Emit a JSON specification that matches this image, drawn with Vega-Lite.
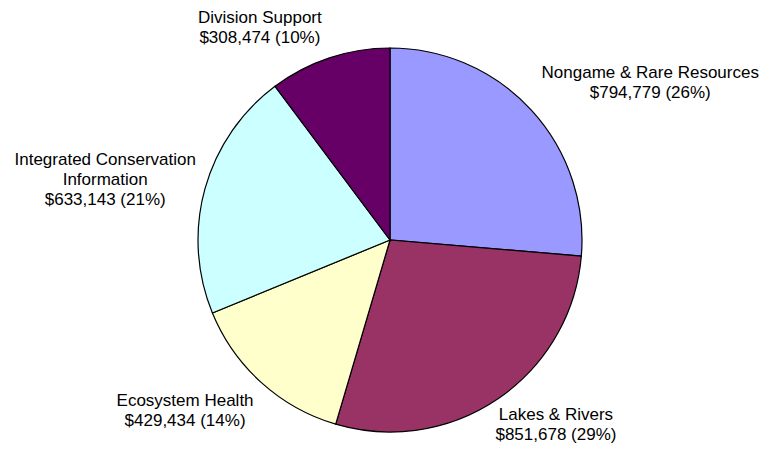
{
  "$schema": "https://vega.github.io/schema/vega-lite/v6.json",
  "width": 748,
  "height": 418,
  "autosize": "none",
  "padding": {"left": 16, "top": 31, "right": 0, "bottom": 0},
  "background": "white",
  "config": {"view": {"stroke": null}},
  "data": {
    "values": [
      {"rank": 1, "category": "Nongame & Rare Resources", "amount": 794779, "label": "Nongame & Rare Resources\n$794,779 (26%)"},
      {"rank": 2, "category": "Lakes & Rivers", "amount": 851678, "label": "Lakes & Rivers\n$851,678 (29%)"},
      {"rank": 3, "category": "Ecosystem Health", "amount": 429434, "label": "Ecosystem Health\n$429,434 (14%)"},
      {"rank": 4, "category": "Integrated Conservation Information", "amount": 633143, "label": "Integrated Conservation\nInformation\n$633,143 (21%)"},
      {"rank": 5, "category": "Division Support", "amount": 308474, "label": "Division Support\n$308,474 (10%)"}
    ]
  },
  "encoding": {
    "theta": {"field": "amount", "type": "quantitative", "stack": true},
    "order": {"field": "rank", "type": "quantitative"}
  },
  "layer": [
    {
      "mark": {"type": "arc", "outerRadius": 192, "stroke": "black", "strokeWidth": 1.2},
      "encoding": {
        "color": {
          "field": "category",
          "type": "nominal",
          "scale": {
            "domain": ["Nongame & Rare Resources", "Lakes & Rivers", "Ecosystem Health", "Integrated Conservation Information", "Division Support"],
            "range": ["#9999FF", "#993366", "#FFFFCC", "#CCFFFF", "#660066"]
          },
          "legend": null
        }
      }
    },
    {
      "mark": {
        "type": "text",
        "radius": 200,
        "font": "Liberation Sans",
        "fontSize": 17,
        "lineBreak": "\n",
        "lineHeight": 20,
        "align": "center",
        "baseline": "middle",
        "color": "black",
        "dx": {"expr": "datum.rank == 1 ? 113 : datum.rank == 2 ? 53 : datum.rank == 3 ? -71 : datum.rank == 4 ? -92 : -67"},
        "dy": {"expr": "datum.rank == 1 ? -32 : datum.rank == 2 ? 10 : datum.rank == 3 ? 12 : datum.rank == 4 ? -27 : -32"}
      },
      "encoding": {"text": {"field": "label", "type": "nominal"}}
    }
  ]
}
